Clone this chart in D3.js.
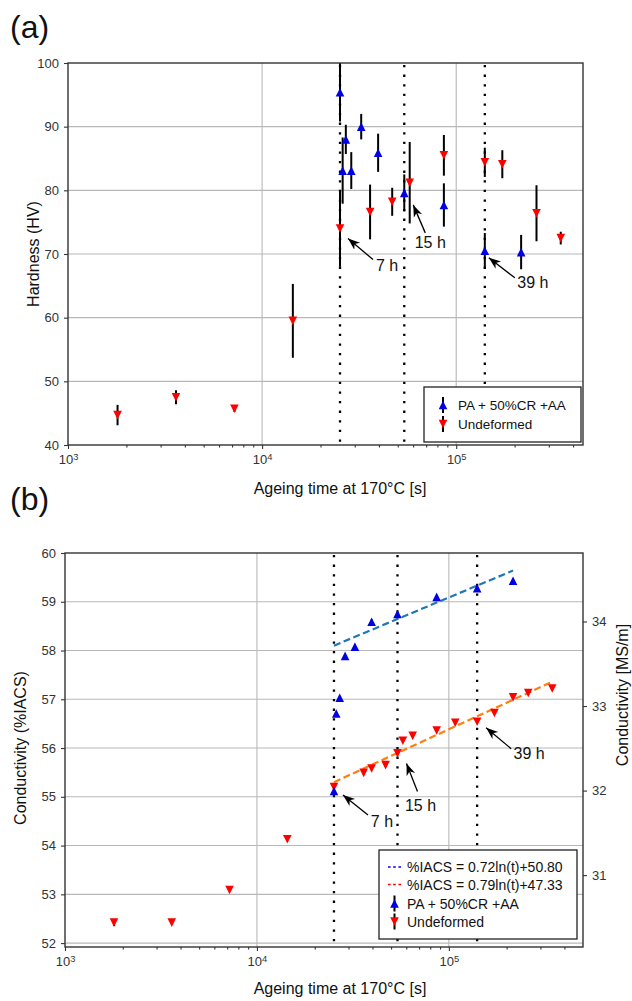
<!DOCTYPE html>
<html>
<head>
<meta charset="utf-8">
<script src="https://cdn.jsdelivr.net/npm/d3@7"></script>
<style>
  body { margin: 0; background: #fff; }
  text { font-family: "Liberation Sans", Arial, Helvetica, sans-serif; }
</style>
</head>
<body>
<script>
// ---- panel (a): hardness ----
const hvTimeUndef = [1800, 3600, 7200, 14400, 25200, 36000, 46800, 57600, 86400, 140400, 172800, 259200, 345600];
const hvUndef     = [44.7, 47.5, 45.7, 59.5, 74.0, 76.6, 78.2, 81.2, 85.5, 84.4, 84.1, 76.4, 72.5];
const hvUndefErr  = [1.6, 1.1, 0.5, 5.8, 6.0, 4.3, 2.2, 6.4, 3.2, 2.3, 2.2, 4.4, 1.0];

const hvTimePA = [25200, 26000, 27000, 28800, 32400, 39600, 54000, 86400, 140400, 216000];
const hvPA     = [95.4, 83.1, 88.0, 83.1, 90.0, 85.9, 79.6, 77.7, 70.5, 70.3];
const hvPAErr  = [4.6, 5.2, 2.3, 2.9, 2.0, 3.0, 2.9, 3.4, 2.8, 2.7];

const hvTicks = [40, 50, 60, 70, 80, 90, 100];

// ---- panel (b): conductivity ----
const condTimeUndef = [1800, 3600, 7200, 14400, 25200, 36000, 39600, 46800, 54000, 57600, 64800, 86400, 108000, 140400, 172800, 216000, 259200, 345600];
const condUndef     = [52.42, 52.42, 53.09, 54.13, 55.20, 55.49, 55.58, 55.65, 55.89, 56.15, 56.25, 56.36, 56.52, 56.54, 56.72, 57.04, 57.13, 57.22];
const condUndefErr  = [0.07, 0, 0, 0, 0, 0, 0, 0, 0, 0, 0, 0, 0, 0, 0, 0, 0, 0];

const condTimePA = [25200, 25900, 27000, 28800, 32400, 39600, 54000, 86400, 140400, 216000];
const condPA     = [55.12, 56.71, 57.03, 57.89, 58.08, 58.59, 58.75, 59.10, 59.28, 59.43];
const condPAErr  = [0, 0, 0, 0, 0, 0.05, 0.08, 0, 0, 0];

// fitted trend lines (end points)
const fitTimePA = [25200, 216000];
const fitPA     = [58.10, 59.64];
const fitTimeUndef = [25200, 345600];
const fitUndef     = [55.30, 57.36];

const condTicks = [52, 53, 54, 55, 56, 57, 58, 59, 60];
const msmTicks  = [31, 32, 33, 34];
const msmRange  = [30.15, 34.81];

// shared
const markTimes  = [25200, 54000, 140400];
const markLabels = ["7 h", "15 h", "39 h"];
const xMajor = [1e3, 1e4, 1e5];
const xMinor = [2e3, 3e3, 4e3, 5e3, 6e3, 7e3, 8e3, 9e3, 2e4, 3e4, 4e4, 5e4, 6e4, 7e4, 8e4, 9e4,
                2e5, 3e5, 4e5];
const xLabel = "Ageing time at 170°C [s]";

const BLUE = "#0000e0", RED = "#ff0000";

const svg = d3.select("body").append("svg").attr("width", 632).attr("height", 1001);

function tri(up, r) {
  return up ? `M0,${-r}L${r},${r}L${-r},${r}Z` : `M0,${r}L${r},${-r}L${-r},${-r}Z`;
}

// arrow head
svg.append("defs").append("marker")
  .attr("id", "ahead").attr("markerUnits", "userSpaceOnUse")
  .attr("viewBox", "-12 -6 14 12").attr("refX", 0).attr("refY", 0)
  .attr("markerWidth", 14).attr("markerHeight", 12).attr("orient", "auto")
  .append("path").attr("d", "M0,0L-12,-4.5L-8.5,0L-12,4.5Z").attr("fill", "#000");

function frame(box, x, y, yTicks, id) {
  svg.append("clipPath").attr("id", id).append("rect")
    .attr("x", box.l).attr("y", box.t).attr("width", box.r - box.l).attr("height", box.b - box.t);

  const grid = svg.append("g").attr("stroke", "#b8b8b8").attr("stroke-width", 1.1);
  grid.selectAll(".gx").data(xMajor.filter(d => x(d) > box.l + 1)).join("line")
    .attr("x1", d => x(d)).attr("x2", d => x(d)).attr("y1", box.t).attr("y2", box.b);
  grid.selectAll(".gy").data(yTicks.filter(d => y(d) > box.t + 1 && y(d) < box.b - 1)).join("line")
    .attr("x1", box.l).attr("x2", box.r).attr("y1", d => y(d)).attr("y2", d => y(d));

  // x axis
  const ax = svg.append("g").attr("transform", `translate(0,${box.b})`)
    .call(d3.axisBottom(x).tickValues(xMajor).tickSize(4).tickSizeOuter(0).tickPadding(6).tickFormat(() => ""));
  ax.selectAll("text").each(function(d) {
    const t = d3.select(this);
    t.append("tspan").text("10");
    t.append("tspan").attr("dy", "-0.45em").attr("font-size", "0.72em").text(Math.round(Math.log10(d)));
  });
  const axm = svg.append("g").attr("transform", `translate(0,${box.b})`)
    .call(d3.axisBottom(x).tickValues(xMinor).tickSize(2.5).tickSizeOuter(0).tickFormat(() => ""));

  const ay = svg.append("g").attr("transform", `translate(${box.l},0)`)
    .call(d3.axisLeft(y).tickValues(yTicks).tickSize(4).tickSizeOuter(0).tickPadding(5));

  [ax, axm, ay].forEach(a => {
    a.select(".domain").remove();
    a.selectAll("line").attr("stroke", "#333").attr("stroke-width", 1.1);
    a.selectAll("text").attr("fill", "#333").attr("font-size", 13)
      .attr("font-family", '"Liberation Sans", Arial, sans-serif');
  });

  // dotted markers at 7 h, 15 h, 39 h
  svg.append("g").selectAll("line").data(markTimes).join("line")
    .attr("x1", d => x(d)).attr("x2", d => x(d)).attr("y1", box.t + 2).attr("y2", box.b)
    .attr("stroke", "#000").attr("stroke-width", 2.3).attr("stroke-dasharray", "2.3,7.3");
}

function series(x, y, times, vals, errs, up, color, id, r) {
  const pts = times.map((t, i) => ({ t, v: vals[i], e: errs[i] }));
  const g = svg.append("g").attr("clip-path", `url(#${id})`);
  g.selectAll("line").data(pts.filter(d => d.e > 0)).join("line")
    .attr("x1", d => x(d.t)).attr("x2", d => x(d.t))
    .attr("y1", d => y(d.v - d.e)).attr("y2", d => y(d.v + d.e))
    .attr("stroke", "#000").attr("stroke-width", 2);
  svg.append("g").selectAll("path").data(pts).join("path")
    .attr("transform", d => `translate(${x(d.t)},${y(d.v)})`)
    .attr("d", tri(up, r)).attr("fill", color);
}

function closeFrame(box) {
  svg.append("rect").attr("x", box.l).attr("y", box.t)
    .attr("width", box.r - box.l).attr("height", box.b - box.t)
    .attr("fill", "none").attr("stroke", "#333").attr("stroke-width", 1.4);
}

function annotate(x, y, times, vals, offs) {
  offs.forEach((o, i) => {
    const px = x(times[i]), py = y(vals[i]);
    svg.append("line")
      .attr("x1", px + o.tail[0]).attr("y1", py + o.tail[1])
      .attr("x2", px + o.head[0]).attr("y2", py + o.head[1])
      .attr("stroke", "#000").attr("stroke-width", 1.3).attr("marker-end", "url(#ahead)");
    svg.append("text").attr("x", px + o.text[0]).attr("y", py + o.text[1])
      .attr("text-anchor", "middle").attr("dominant-baseline", "central")
      .attr("font-size", 16).attr("fill", "#111").text(markLabels[i]);
  });
}

function legendMarker(cx, cy, up, color, r) {
  svg.append("line").attr("x1", cx).attr("x2", cx).attr("y1", cy - 8).attr("y2", cy + 8)
    .attr("stroke", "#000").attr("stroke-width", 2);
  svg.append("path").attr("transform", `translate(${cx},${cy})`).attr("d", tri(up, r)).attr("fill", color);
}

// ================= panel (a) =================
const boxA = { l: 68, r: 583, t: 63, b: 445 };
const xA = d3.scaleLog().domain([1000, 4.5e5]).range([boxA.l, boxA.r]);
const yA = d3.scaleLinear().domain([40, 100]).range([boxA.b, boxA.t]);

frame(boxA, xA, yA, hvTicks, "clipA");
series(xA, yA, hvTimePA, hvPA, hvPAErr, true, BLUE, "clipA", 4.3);
series(xA, yA, hvTimeUndef, hvUndef, hvUndefErr, false, RED, "clipA", 4.3);
closeFrame(boxA);

annotate(xA, yA, [hvTimeUndef[4], hvTimePA[6], hvTimePA[8]], [hvUndef[4], hvPA[6], hvPA[8]], [
  { head: [8, 10], tail: [33, 31], text: [47, 37] },
  { head: [9, 12], tail: [21, 40], text: [26, 50] },
  { head: [4, 7], tail: [30, 27], text: [48, 32] }
]);

// legend (a)
svg.append("rect").attr("x", 424).attr("y", 387).attr("width", 157).attr("height", 55)
  .attr("fill", "#fff").attr("stroke", "#222").attr("stroke-width", 1.3);
legendMarker(443, 405, true, BLUE, 4.3);
legendMarker(443, 424, false, RED, 4.3);
svg.append("text").attr("x", 458).attr("y", 405).attr("dominant-baseline", "central")
  .attr("font-size", 13.5).attr("fill", "#111").text("PA + 50%CR +AA");
svg.append("text").attr("x", 458).attr("y", 424).attr("dominant-baseline", "central")
  .attr("font-size", 13.5).attr("fill", "#111").text("Undeformed");

svg.append("text").attr("x", 340).attr("y", 488).attr("text-anchor", "middle")
  .attr("dominant-baseline", "central").attr("font-size", 16).attr("fill", "#111").text(xLabel);
svg.append("text").attr("transform", "translate(33,254) rotate(-90)").attr("text-anchor", "middle")
  .attr("dominant-baseline", "central").attr("font-size", 16).attr("fill", "#111").text("Hardness (HV)");
svg.append("text").attr("x", 10).attr("y", 38).attr("font-size", 32).attr("fill", "#111").text("(a)");

// ================= panel (b) =================
const boxB = { l: 65, r: 583, t: 553, b: 947 };
const xB = d3.scaleLog().domain([1000, 5e5]).range([boxB.l, boxB.r]);
const yB = d3.scaleLinear().domain([51.92, 60]).range([boxB.b, boxB.t]);
const yBR = d3.scaleLinear().domain(msmRange).range([boxB.b, boxB.t]);

frame(boxB, xB, yB, condTicks, "clipB");

const fitLine = d3.line().x(d => xB(d[0])).y(d => yB(d[1]));
svg.append("path").datum(fitTimePA.map((t, i) => [t, fitPA[i]])).attr("d", fitLine)
  .attr("fill", "none").attr("stroke", "#1f77b4").attr("stroke-width", 2.2).attr("stroke-dasharray", "7,3.5");
svg.append("path").datum(fitTimeUndef.map((t, i) => [t, fitUndef[i]])).attr("d", fitLine)
  .attr("fill", "none").attr("stroke", "#ff7f0e").attr("stroke-width", 2.2).attr("stroke-dasharray", "7,3.5");

series(xB, yB, condTimeUndef, condUndef, condUndefErr, false, RED, "clipB", 4.3);
series(xB, yB, condTimePA, condPA, condPAErr, true, BLUE, "clipB", 4.3);
closeFrame(boxB);

// right axis (MS/m)
const ayR = svg.append("g").attr("transform", `translate(${boxB.r},0)`)
  .call(d3.axisRight(yBR).tickValues(msmTicks).tickSize(4).tickSizeOuter(0).tickPadding(5).tickFormat(d3.format("d")));
ayR.select(".domain").remove();
ayR.selectAll("line").attr("stroke", "#333").attr("stroke-width", 1.1);
ayR.selectAll("text").attr("fill", "#333").attr("font-size", 13)
  .attr("font-family", '"Liberation Sans", Arial, sans-serif');

annotate(xB, yB, [condTimePA[0], condTimeUndef[8], condTimeUndef[13]], [condPA[0], condUndef[8], condUndef[13]], [
  { head: [9, 4], tail: [34, 24], text: [48, 31] },
  { head: [9, 10], tail: [20, 38], text: [23, 52] },
  { head: [9, 6], tail: [34, 27], text: [52, 32] }
]);

// legend (b)
svg.append("rect").attr("x", 379).attr("y", 850).attr("width", 198).attr("height", 89)
  .attr("fill", "#fff").attr("stroke", "#222").attr("stroke-width", 1.3);
const legB = [
  { kind: "line", color: "#0000ff", text: "%IACS = 0.72ln(t)+50.80" },
  { kind: "line", color: "#ff0000", text: "%IACS = 0.79ln(t)+47.33" },
  { kind: "up", color: BLUE, text: "PA + 50%CR +AA" },
  { kind: "down", color: RED, text: "Undeformed" }
];
const legY = [867, 884.5, 903.5, 921.5];
legB.forEach((d, i) => {
  const cy = legY[i];
  if (d.kind === "line") {
    svg.append("line").attr("x1", 388).attr("x2", 401).attr("y1", cy).attr("y2", cy)
      .attr("stroke", d.color).attr("stroke-width", 1.3).attr("stroke-dasharray", "2.6,2.6");
  } else {
    legendMarker(394.5, cy, d.kind === "up", d.color, 4.3);
  }
  svg.append("text").attr("x", 407).attr("y", cy).attr("dominant-baseline", "central")
    .attr("font-size", 14).attr("fill", "#111").text(d.text);
});

svg.append("text").attr("x", 340).attr("y", 988).attr("text-anchor", "middle")
  .attr("dominant-baseline", "central").attr("font-size", 16).attr("fill", "#111").text(xLabel);
svg.append("text").attr("transform", "translate(20,748) rotate(-90)").attr("text-anchor", "middle")
  .attr("dominant-baseline", "central").attr("font-size", 16).attr("fill", "#111").text("Conductivity (%IACS)");
svg.append("text").attr("transform", "translate(622,695) rotate(-90)").attr("text-anchor", "middle")
  .attr("dominant-baseline", "central").attr("font-size", 16).attr("fill", "#111").text("Conductivity [MS/m]");
svg.append("text").attr("x", 10).attr("y", 510).attr("font-size", 32).attr("fill", "#111").text("(b)");
</script>
</body>
</html>
